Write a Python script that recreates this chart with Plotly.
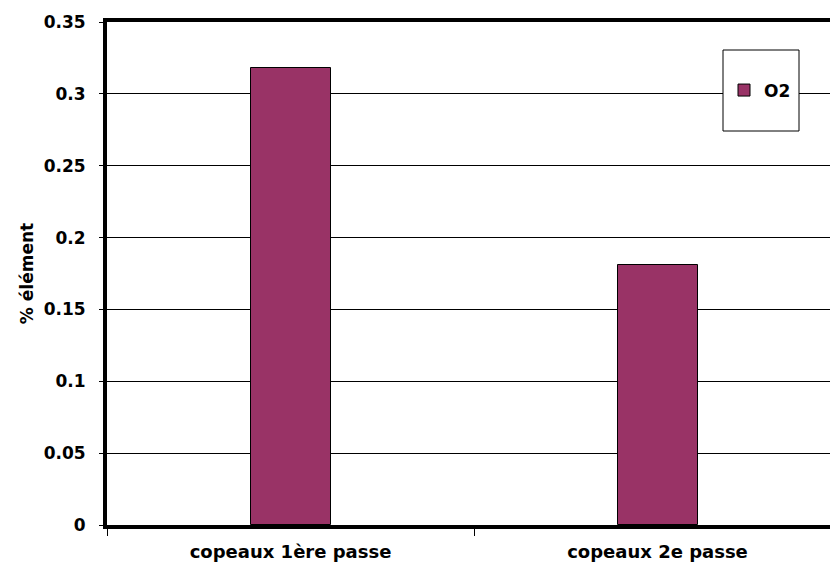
import plotly.graph_objects as go

categories = ["copeaux 1ère passe", "copeaux 2e passe"]
o2_values = [0.318, 0.181]
series_name = "O2"
y_tick_vals = [0, 0.05, 0.1, 0.15, 0.2, 0.25, 0.3, 0.35]
y_tick_text = ["0", "0.05", "0.1", "0.15", "0.2", "0.25", "0.3", "0.35"]

FONT = "DejaVu Sans"
W, H = 830, 568
L, R, T, B = 107, 0, 22, 43
pw = W - L - R
ph = H - T - B
cat_px = 367.0

fig = go.Figure()
fig.add_trace(go.Bar(
    x=categories, y=o2_values, name=series_name,
    marker=dict(color="#993366", line=dict(color="black", width=1)),
    width=80 / cat_px, showlegend=True,
))

def px2x(p):
    return (p - L) / pw

def py2y(p):
    return (H - B - p) / ph

fig.update_layout(
    width=W, height=H,
    margin=dict(l=L, r=R, t=T, b=B, pad=0),
    plot_bgcolor="white", paper_bgcolor="white",
    font=dict(family=FONT, size=17, color="black", weight="bold"),
    bargap=0,
    showlegend=True,
    legend=dict(
        x=px2x(724), y=py2y(90.5), xanchor="left", yanchor="middle",
        bgcolor="rgba(0,0,0,0)", borderwidth=0,
        font=dict(family=FONT, size=17, color="black", weight="bold"),
        itemwidth=30, tracegroupgap=0,
    ),
    xaxis=dict(
        type="category",
        range=[-0.5, -0.5 + pw / cat_px],
        showline=True, linewidth=4, linecolor="black", mirror=True,
        ticks="outside", ticklen=7, tickwidth=1, tickcolor="black",
        tickson="boundaries",
        showgrid=False, zeroline=False,
        ticklabelstandoff=7,
        tickfont=dict(family=FONT, size=18, weight="bold"),
    ),
    yaxis=dict(
        range=[0, 0.35],
        tickvals=y_tick_vals, ticktext=y_tick_text,
        showline=True, linewidth=4, linecolor="black",
        ticks="outside", ticklen=4, tickwidth=1, tickcolor="black",
        showgrid=True, gridcolor="black", gridwidth=1,
        zeroline=False,
        ticklabelstandoff=10,
        tickfont=dict(family=FONT, size=17, weight="bold"),
        title=dict(text="% élément", font=dict(family=FONT, size=17, weight="bold"), standoff=7),
    ),
    shapes=[dict(
        type="rect", xref="paper", yref="paper",
        x0=px2x(723), x1=px2x(799), y0=py2y(131), y1=py2y(50),
        line=dict(color="black", width=1), fillcolor="white", layer="above",
    )],
)

fig.write_html("out.html")
